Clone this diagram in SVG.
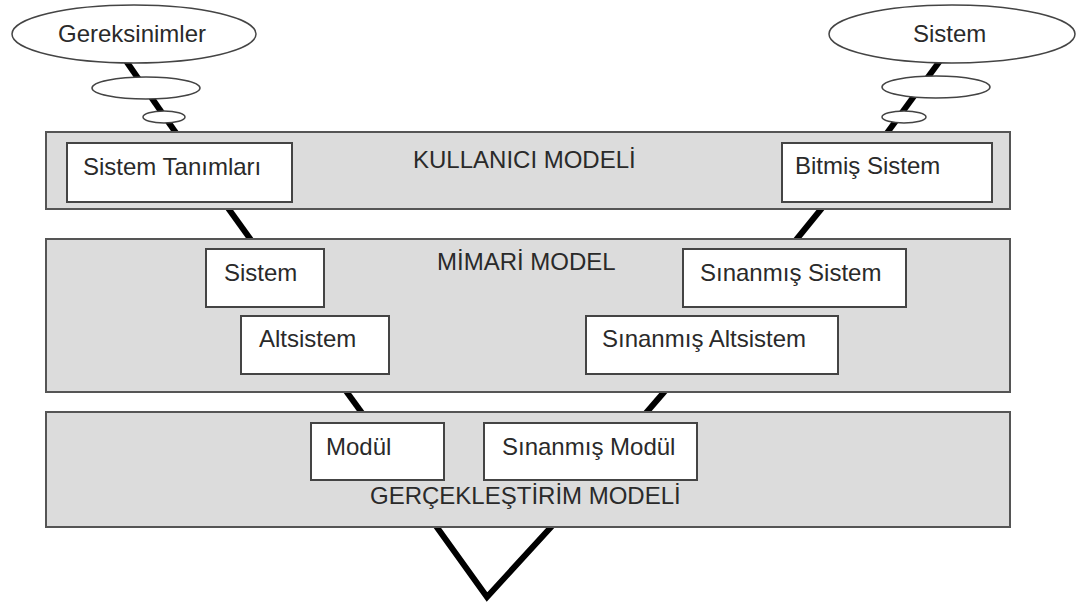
<svg xmlns="http://www.w3.org/2000/svg" width="1088" height="603" viewBox="0 0 1088 603">
  <style>
    .panel { fill: #dcdcdc; stroke: #555; stroke-width: 2; }
    .box { fill: #fff; stroke: #444; stroke-width: 2; }
    .bubble { fill: #fff; stroke: #444; stroke-width: 1.5; }
    .wire { stroke: #000; stroke-width: 6; fill: none; stroke-linejoin: miter; }
    text { font-family: "Liberation Sans", Arial, sans-serif; font-size: 24px; fill: #2a2a2a; }
  </style>
  <rect width="1088" height="603" fill="#fff"/>

  <!-- V-shaped connectors, visible in the gaps between layers -->
  <g id="connectors">
    <line class="wire" x1="124" y1="58" x2="176" y2="133"/>
    <line class="wire" x1="228" y1="208" x2="251" y2="240"/>
    <line class="wire" x1="346" y1="391" x2="362" y2="413"/>
    <polyline class="wire" points="436,526 487,597 552,526"/>
    <line class="wire" x1="942" y1="58" x2="887" y2="133"/>
    <line class="wire" x1="822" y1="208" x2="796" y2="240"/>
    <line class="wire" x1="665" y1="391" x2="646" y2="413"/>
  </g>

  <!-- thought bubbles -->
  <g id="gereksinimler">
    <ellipse class="bubble" cx="134" cy="34" rx="122" ry="29"/>
    <text x="58" y="42">Gereksinimler</text>
  </g>
  <g id="bubble-left-1"><ellipse class="bubble" cx="146" cy="88" rx="54" ry="11"/></g>
  <g id="bubble-left-2"><ellipse class="bubble" cx="164" cy="117" rx="21" ry="6"/></g>

  <g id="sistem-top">
    <ellipse class="bubble" cx="952" cy="34" rx="123" ry="29"/>
    <text x="913" y="42">Sistem</text>
  </g>
  <g id="bubble-right-1"><ellipse class="bubble" cx="936" cy="87" rx="54" ry="11"/></g>
  <g id="bubble-right-2"><ellipse class="bubble" cx="904" cy="117" rx="22" ry="6"/></g>

  <!-- user model layer -->
  <g id="kullanici-modeli">
    <rect class="panel" x="46" y="132" width="964" height="77"/>
    <text x="413" y="168">KULLANICI MODELİ</text>
  </g>
  <g id="sistem-tanimlari">
    <rect class="box" x="67" y="143" width="225" height="59"/>
    <text x="83" y="175">Sistem Tanımları</text>
  </g>
  <g id="bitmis-sistem">
    <rect class="box" x="782" y="143" width="210" height="59"/>
    <text x="795" y="174">Bitmiş Sistem</text>
  </g>

  <!-- architecture layer -->
  <g id="mimari-model">
    <rect class="panel" x="46" y="239" width="964" height="153"/>
    <text x="437" y="270">MİMARİ MODEL</text>
  </g>
  <g id="sistem">
    <rect class="box" x="206" y="249" width="118" height="58"/>
    <text x="224" y="281">Sistem</text>
  </g>
  <g id="altsistem">
    <rect class="box" x="241" y="316" width="148" height="58"/>
    <text x="259" y="347">Altsistem</text>
  </g>
  <g id="sinanmis-sistem">
    <rect class="box" x="683" y="249" width="223" height="58"/>
    <text x="700" y="281">Sınanmış Sistem</text>
  </g>
  <g id="sinanmis-altsistem">
    <rect class="box" x="586" y="316" width="252" height="58"/>
    <text x="602" y="347">Sınanmış Altsistem</text>
  </g>

  <!-- implementation layer -->
  <g id="gerceklestirim-modeli">
    <rect class="panel" x="46" y="412" width="964" height="115"/>
    <text x="370" y="504">GERÇEKLEŞTİRİM MODELİ</text>
  </g>
  <g id="modul">
    <rect class="box" x="311" y="423" width="133" height="57"/>
    <text x="326" y="455">Modül</text>
  </g>
  <g id="sinanmis-modul">
    <rect class="box" x="484" y="423" width="213" height="57"/>
    <text x="502" y="455">Sınanmış Modül</text>
  </g>
</svg>
